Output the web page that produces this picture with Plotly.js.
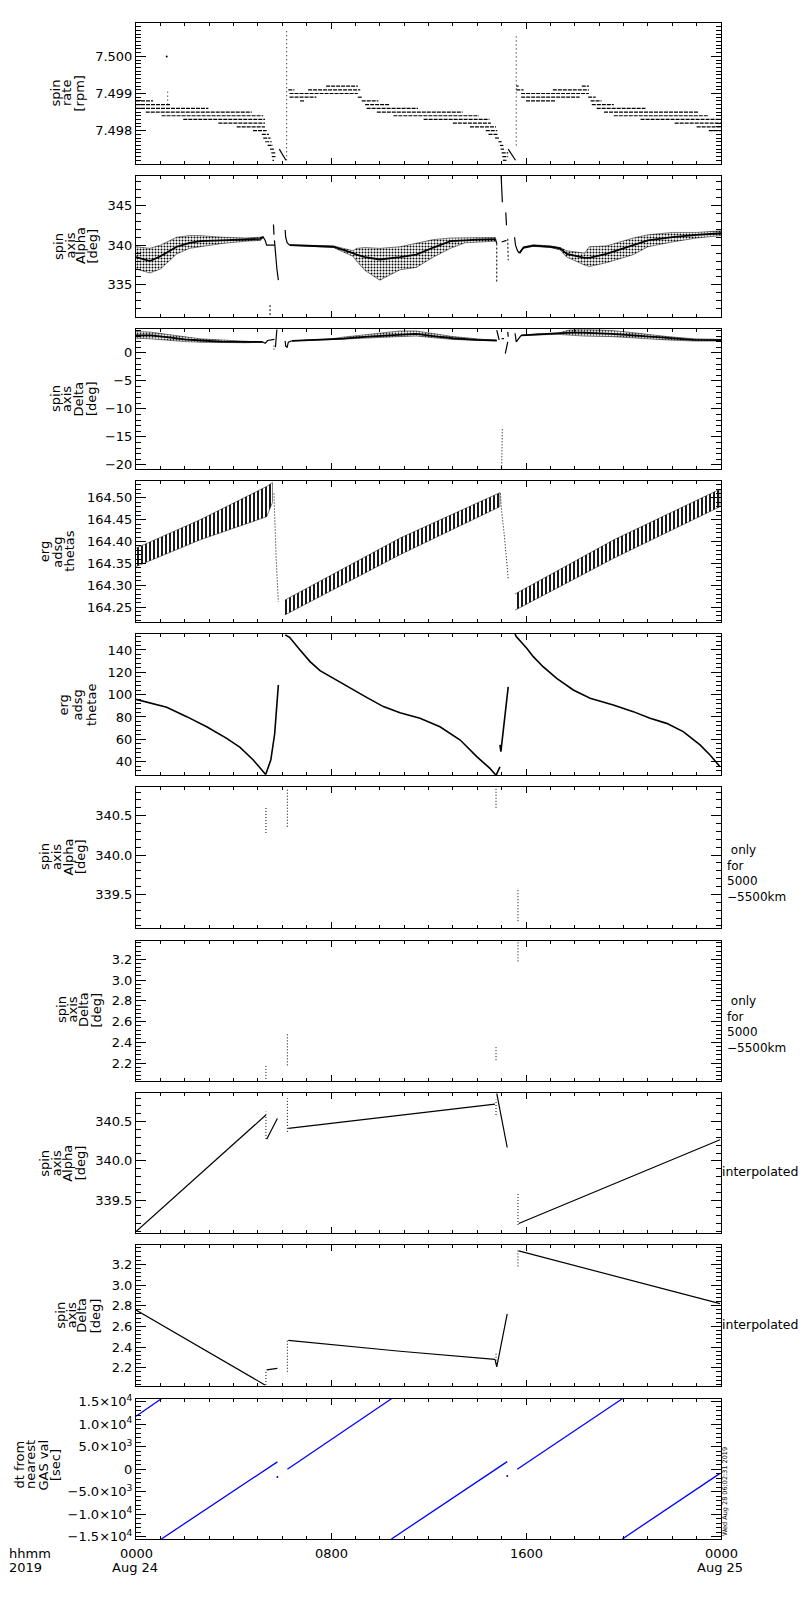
<!DOCTYPE html>
<html><head><meta charset="utf-8">
<script src="https://cdn.plot.ly/plotly-3.0.1.min.js"></script>
<style>html,body{margin:0;padding:0;background:#fff}</style>
</head><body><div id="chart" style="width:800px;height:1600px"></div>
<script>
// ================= DATA (time in hours since 2019-08-24 00:00) =================
// Panel 1: spin rate [rpm] quantized levels (level, start, end)
const rateLevel = [7.4988,7.4987,7.4986,7.4985,7.4984,7.4983,7.4982,7.4981,7.4980,7.4979,7.4978,7.4977,7.4976,7.4975,7.4974,7.4973,7.4972,
  7.4992,7.4991,7.4991,7.4990,7.4989,7.4989,7.4988,7.4988,7.4987,7.4986,7.4985,7.4984,7.4983,7.4982,7.4981,7.4980,7.4979,7.4978,7.4977,7.4976,7.4975,7.4974,7.4973,7.4972,
  7.4992,7.4991,7.4991,7.4992,7.4990,7.4989,7.4989,7.4988,7.4988,7.4987,7.4986,7.4985,7.4984,7.4983,7.4982,7.4981,7.4980];
const rateT0 = [0.0,0.0,0.0,0.4,1.05,1.94,3.38,4.13,4.8,5.16,5.22,5.3,5.4,5.5,5.55,5.57,5.6,
  7.8,6.25,7.06,6.3,6.3,9.1,6.73,9.26,9.4,9.46,9.88,10.56,11.8,13.0,13.7,14.35,14.46,14.73,14.87,14.93,14.96,15.0,15.03,15.05,
  15.6,15.6,17.1,18.29,15.8,15.8,18.55,16.0,18.65,18.7,18.9,19.2,19.6,20.7,22.1,23.0,23.5];
const rateT1 = [0.7,1.4,2.97,4.75,5.22,5.29,5.29,5.29,5.36,5.45,5.52,5.57,5.62,5.66,5.72,5.72,5.66,
  9.1,6.5,9.2,9.1,7.4,9.3,6.93,9.94,10.42,11.57,13.4,14.07,14.5,14.56,14.77,14.82,14.87,14.93,15.0,15.07,15.1,15.27,15.27,15.2,
  15.7,15.9,18.58,18.58,18.58,18.2,18.86,17.19,19.1,19.6,20.9,23.1,23.5,24,24,24,24];
const rateSpikeT  = [1.3, 6.18, 15.6];
const rateSpikeLo = [7.4987, 7.4972, 7.4976];
const rateSpikeHi = [7.4991, 7.5007, 7.5006];
const rateDiagT0 = [5.88, 15.27], rateDiagV0 = [7.4975, 7.4975];
const rateDiagT1 = [6.15, 15.57], rateDiagV1 = [7.4972, 7.4972];
const rateDotT = [1.26], rateDotV = [7.5000];

// Panel 2: spin axis Alpha [deg] (band lo/mid/hi)
const alphaA_t   = [0.0,0.57,1.0,1.67,2.2,2.63,3.5,4.5,5.1,5.2];
const alphaA_lo  = [337.0,336.5,337.0,338.9,339.6,339.8,340.2,340.5,340.6,340.9];
const alphaA_mid = [338.5,338.0,338.6,339.8,340.3,340.5,340.6,340.7,340.8,341.0];
const alphaA_hi  = [339.8,339.6,340.0,341.0,341.2,341.2,341.0,340.9,341.0,341.1];
const alphaB_t   = [6.3,8.1,8.9,9.05,9.4,10.0,10.83,11.5,12.2,12.9,13.5,14.0,14.75];
const alphaB_lo  = [340.0,339.7,338.6,338.0,336.8,335.6,336.9,337.2,338.5,339.6,340.3,340.4,340.5];
const alphaB_mid = [340.0,339.8,339.0,338.8,338.5,338.2,338.5,338.8,339.7,340.5,340.6,340.7,340.75];
const alphaB_hi  = [340.05,339.9,339.3,339.6,339.7,339.6,339.8,340.2,340.7,340.9,340.9,340.9,340.95];
const alphaC_t   = [15.73,15.9,16.3,17.0,17.4,17.67,18.4,18.6,19.3,20.4,21.0,22.0,23.0,24.0];
const alphaC_lo  = [339.0,339.6,339.85,339.7,339.4,338.5,337.5,337.3,337.8,338.8,339.8,340.4,340.9,341.2];
const alphaC_mid = [339.0,339.7,339.95,339.8,339.6,338.9,338.4,338.4,338.9,340.0,340.6,341.0,341.3,341.5];
const alphaC_hi  = [339.0,339.8,340.05,339.9,339.7,339.3,339.0,339.8,339.9,340.9,341.3,341.6,341.6,341.8];
const alphaStrokeT = [[5.2,5.3,5.36,5.7],[5.64,5.66],[5.68,5.72,5.78,5.84],[6.12,6.14,6.2,6.3],[14.75,14.8],[14.98,15.03],[15.17,15.2],[15.0,15.2],[15.53,15.57,15.65,15.73]];
const alphaStrokeV = [[341.1,340.6,340.0,340.0],[342.6,341.3],[340.6,339.0,337.0,335.6],[341.9,341.0,340.3,340.0],[340.75,340.2],[348.7,345.4],[344.1,342.5],[340.4,340.6],[341.0,340.0,339.3,339.0]];
const alphaDotT = [[5.5,5.5],[14.8,14.8],[15.25,15.27]];
const alphaDotV = [[331.2,332.6],[340.2,335.3],[340.8,338.1]];

// Panel 3: spin axis Delta [deg]
const deltaA_t   = [0.0,0.6,1.26,2.0,2.63,3.5,4.5,5.2];
const deltaA_lo  = [2.6,2.5,2.3,2.0,1.9,1.8,1.8,1.9];
const deltaA_mid = [3.1,3.1,2.8,2.4,2.2,2.0,1.95,1.95];
const deltaA_hi  = [3.8,3.7,3.3,2.8,2.5,2.3,2.1,2.0];
const deltaB_t   = [6.4,7.96,8.5,9.5,10.83,11.5,12.2,13.0,14.0,14.8];
const deltaB_lo  = [2.15,2.35,2.4,2.6,2.9,3.0,2.7,2.4,2.2,2.2];
const deltaB_mid = [2.15,2.4,2.55,2.9,3.3,3.4,3.0,2.6,2.3,2.2];
const deltaB_hi  = [2.15,2.45,2.8,3.3,3.9,3.9,3.4,2.9,2.5,2.25];
const deltaC_t   = [15.8,16.5,17.3,17.8,18.35,19.5,20.4,21.8,22.9,24.0];
const deltaC_lo  = [3.1,3.2,3.3,3.2,3.0,2.9,2.7,2.3,2.1,2.1];
const deltaC_mid = [3.1,3.3,3.4,3.6,3.6,3.4,3.1,2.6,2.3,2.25];
const deltaC_hi  = [3.1,3.4,3.5,4.1,4.2,4.0,3.6,2.9,2.5,2.4];
const deltaStrokeT = [[5.2,5.3,5.4,5.68],[5.72,5.78],[6.12,6.14,6.2,6.25,6.4],[14.8,14.85,14.9],[15.0,15.1],[15.15,15.25],[15.25,15.27],[15.55,15.6,15.8]];
const deltaStrokeV = [[1.95,1.7,2.2,2.4],[1.0,4.2],[2.1,1.2,1.0,1.9,2.15],[4.05,3.0,2.26],[2.55,2.55],[-0.13,1.96],[3.75,2.86],[3.5,1.96,3.1]];
const deltaDotT = [[5.66,5.66],[15.0,15.03]];
const deltaDotV = [[1.3,0.4],[-20.8,-13.4]];

// Panel 4: erg adsg thetas (hatched bands)
const thetasA_t  = [0.0,2.63,5.36,5.6];
const thetasA_lo = [164.343,164.404,164.457,164.49];
const thetasA_hi = [164.385,164.45,164.526,164.535];
const thetasB_t  = [6.1,10.83,14.93];
const thetasB_lo = [164.232,164.37,164.48];
const thetasB_hi = [164.266,164.408,164.512];
const thetasC_t  = [15.55,19.6,23.96];
const thetasC_lo = [164.243,164.362,164.48];
const thetasC_hi = [164.28,164.404,164.52];
const thetasDropT = [[5.66,5.7,5.75,5.84],[14.95,15.0,15.1,15.27]];
const thetasDropV = [[164.51,164.44,164.36,164.262],[164.51,164.47,164.42,164.316]];

// Panel 5: erg adsg thetae
const thetaeT = [[0.0,1.26,2.08,2.9,3.72,4.27,4.81,5.09,5.32],[5.32,5.53,5.69,5.8,5.84],
  [6.12,6.3,6.73,7.14,7.55,8.09,8.78,9.46,10.15,10.83,11.65,12.47,13.3,13.98,14.52,14.77],[14.77,14.93],[14.93,14.97,15.27],
  [15.55,15.6,16.03,16.3,16.7,17.26,17.94,18.63,19.58,20.4,21.09,21.77,22.45,23.14,23.55,23.96]];
const thetaeV = [[95.8,88.7,80.3,71.3,60.9,52.8,41.5,34.0,28.5],[28.5,41.5,65,95,108.7],
  [153.5,151.3,140,129.6,121.5,114.6,105.7,97.6,89.3,83.8,78.8,71.3,59.4,44.5,34.0,27.8],[27.8,35.3],[55,49,107],
  [154.3,152,141.5,134,125,114.6,104.2,96.7,90.7,84.8,78.8,74.3,66.9,55,46,35.5]];

// Panel 6/7: only for 5000-5500km (dotted vertical clusters)
const onlyT = [5.33, 6.21, 14.77, 15.67];
const onlyAlphaLo = [340.28,340.36,340.6,339.16];
const onlyAlphaHi = [340.62,340.85,340.85,339.58];
const onlyDeltaLo = [2.05,2.18,2.23,3.18];
const onlyDeltaHi = [2.18,2.48,2.37,3.37];

// Panel 8: interpolated Alpha
const interpAlphaT = [[0,5.33],[5.36,5.8],[6.25,10.83,14.73],[14.8,15.23],[15.7,23.96]];
const interpAlphaV = [[339.097,340.585],[340.275,340.54],[340.415,340.585,340.725],[340.86,340.17],[339.2,340.27]];
const interpAlphaDotLo = [340.28,340.37,340.585,339.18];
const interpAlphaDotHi = [340.63,340.8,340.78,339.59];
// Panel 9: interpolated Delta
const interpDeltaT = [[0,5.29],[5.36,5.8],[6.25,10.83,14.73],[14.73,14.8,15.23],[15.7,23.96]];
const interpDeltaV = [[2.758,2.034],[2.18,2.195],[2.465,2.36,2.282],[2.282,2.21,2.72],[3.33,2.82]];
const interpDeltaDotLo = [2.034,2.162,2.24,3.18];
const interpDeltaDotHi = [2.18,2.47,2.35,3.34];

// Panel 10: dt from nearest GAS val [sec]
const gasT0 = [0, 1.04, 6.21, 10.48, 15.64, 19.95];
const gasV0 = [11800, -15500, 0, -15500, 0, -15500];
const gasT1 = [1.04, 5.8, 10.48, 15.23, 19.95, 23.96];
const gasV1 = [15700, 1650, 15700, 1700, 15700, -900];
const gasDotT = [5.8, 15.23];
const gasDotV = [-1700, -1500];

// Axis labels
const yTitles = [["spin","rate","[rpm]"],["spin","axis","Alpha","[deg]"],["spin","axis","Delta","[deg]"],["erg","adsg","thetas"],["erg","adsg","thetae"],
  ["spin","axis","Alpha","[deg]"],["spin","axis","Delta","[deg]"],["spin","axis","Alpha","[deg]"],["spin","axis","Delta","[deg]"],["dt from","nearest","GAS val","[sec]"]];
const gasTickVals = [-15000,-10000,-5000,0,5000,10000,15000];
const gasTickText = ["\u22121.5\u00d710<sup>4</sup>","\u22121.0\u00d710<sup>4</sup>","\u22125.0\u00d710<sup>3</sup>","0","5.0\u00d710<sup>3</sup>","1.0\u00d710<sup>4</sup>","1.5\u00d710<sup>4</sup>"];
const xTickHours = ["0000","0800","1600","0000"];
const xTickDates = ["Aug 24","","","Aug 25"];
const onlyText = "\u00a0only<br>for<br>5000<br>\u22125500km";

// ================= LAYOUT / STYLE =================
const W = 800, H = 1600, L = 136, R = 721;
const panelTop = [23,176,329.3,481.3,634,787.3,940.7,1093.3,1245.3,1398.7];
const panelBot = [164,316.7,469.3,622,775.3,928.3,1081.3,1233.3,1386,1539];
const yRange = [[7.4971,7.5009],[331.0,348.7],[-20.8,4.2],[164.216,164.538],[27.8,154.3],[339.07,340.86],[2.027,3.379],[339.075,340.862],[2.024,3.384],[-15500,15700]];
const yDtick = [0.001,5,5,0.05,20,0.5,0.2,0.5,0.2,5000];
const yMinor = [0.0001,1,1,0.01,4,0.1,0.04,0.1,0.04,1000];
const yFormat = ['.3f','d','d','.2f','d','.1f','.1f','.1f','.1f',''];
const titleX = [[55,66.5,79],[58,69.5,80,91.5],[55,66,77.5,91],[44.5,58,70],[62.5,76.5,91],[44,56,67.5,80],[61,71.5,83,95.5],[44.5,56,67.5,80],[61,71.5,82,95.5],[18.5,30,42.5,55]];
const titleY = [93.5,246,399,551.7,705,857,1010,1163.3,1315.7,1465];
const FONT = 'DejaVu Sans, Verdana, sans-serif';

function ax(i){ return {xaxis:'x'+(i?i+1:''), yaxis:'y'+(i?i+1:'')}; }
const traces = [];
function addLine(i, t, v, w, dash, color){
  traces.push(Object.assign({type:'scatter', mode:'lines', x:t, y:v, hoverinfo:'skip', showlegend:false,
    line:{color:color||'black', width:w||1, dash:dash||'solid'}}, ax(i)));
}
function addBand(i, t, lo, hi, shape, size, solidity){
  const xs = t.concat(t.slice().reverse());
  const ys = hi.concat(lo.slice().reverse());
  traces.push(Object.assign({type:'scatter', mode:'lines', x:xs, y:ys, fill:'toself', hoverinfo:'skip', showlegend:false,
    fillcolor:'rgba(0,0,0,0)', line:{color:'black', width:0.5},
    fillpattern:{shape:shape, fgcolor:'black', bgcolor:'rgba(0,0,0,0)', size:size, solidity:solidity}}, ax(i)));
}
function segs(t0,v0,t1,v1){ const x=[],y=[]; for(let k=0;k<t0.length;k++){ x.push(t0[k],t1[k],null); y.push(v0[k],v1[k],null);} return [x,y]; }

// Panel 1
(function(){
  const s = segs(rateT0, rateLevel, rateT1, rateLevel);
  addLine(0, s[0], s[1], 1.2, '4px,1px');
  const sp = segs(rateSpikeT, rateSpikeLo, rateSpikeT, rateSpikeHi);
  addLine(0, sp[0], sp[1], 1, '1px,3px');
  const dg = segs(rateDiagT0, rateDiagV0, rateDiagT1, rateDiagV1);
  addLine(0, dg[0], dg[1], 1.2);
  traces.push(Object.assign({type:'scatter', mode:'markers', x:rateDotT, y:rateDotV, marker:{color:'black', size:2}, hoverinfo:'skip', showlegend:false}, ax(0)));
})();
// Panel 2
addBand(1, alphaA_t, alphaA_lo, alphaA_hi, '.', 3, 0.35);
addBand(1, alphaB_t, alphaB_lo, alphaB_hi, '.', 3, 0.35);
addBand(1, alphaC_t, alphaC_lo, alphaC_hi, '.', 3, 0.35);
addLine(1, alphaA_t, alphaA_mid, 1.8);
addLine(1, alphaB_t, alphaB_mid, 1.8);
addLine(1, alphaC_t, alphaC_mid, 1.8);
alphaStrokeT.forEach((t,k)=>addLine(1, t, alphaStrokeV[k], 1.2));
alphaDotT.forEach((t,k)=>addLine(1, t, alphaDotV[k], 1, '2px,2px'));
// Panel 3
addBand(2, deltaA_t, deltaA_lo, deltaA_hi, '.', 3, 0.35);
addBand(2, deltaB_t, deltaB_lo, deltaB_hi, '.', 3, 0.35);
addBand(2, deltaC_t, deltaC_lo, deltaC_hi, '.', 3, 0.35);
addLine(2, deltaA_t, deltaA_mid, 1.8);
addLine(2, deltaB_t, deltaB_mid, 1.8);
addLine(2, deltaC_t, deltaC_mid, 1.8);
deltaStrokeT.forEach((t,k)=>addLine(2, t, deltaStrokeV[k], 1.2));
deltaDotT.forEach((t,k)=>addLine(2, t, deltaDotV[k], 1, '1px,2px'));
// Panel 4
addBand(3, thetasA_t, thetasA_lo, thetasA_hi, '|', 4, 0.45);
addBand(3, thetasB_t, thetasB_lo, thetasB_hi, '|', 4, 0.45);
addBand(3, thetasC_t, thetasC_lo, thetasC_hi, '|', 4, 0.45);
thetasDropT.forEach((t,k)=>addLine(3, t, thetasDropV[k], 1, '1px,2px'));
// Panel 5
thetaeT.forEach((t,k)=>addLine(4, t, thetaeV[k], 1.6));
// Panel 6,7
(function(){
  const a = segs(onlyT, onlyAlphaLo, onlyT, onlyAlphaHi); addLine(5, a[0], a[1], 1, '1px,2px');
  const d = segs(onlyT, onlyDeltaLo, onlyT, onlyDeltaHi); addLine(6, d[0], d[1], 1, '1px,2px');
})();
// Panel 8,9
interpAlphaT.forEach((t,k)=>addLine(7, t, interpAlphaV[k], 1.2));
interpDeltaT.forEach((t,k)=>addLine(8, t, interpDeltaV[k], 1.2));
(function(){
  const a = segs(onlyT, interpAlphaDotLo, onlyT, interpAlphaDotHi); addLine(7, a[0], a[1], 1, '1px,2px');
  const d = segs(onlyT, interpDeltaDotLo, onlyT, interpDeltaDotHi); addLine(8, d[0], d[1], 1, '1px,2px');
})();
// Panel 10
(function(){
  const g = segs(gasT0, gasV0, gasT1, gasV1); addLine(9, g[0], g[1], 1.3, 'solid', 'rgb(0,0,255)');
  traces.push(Object.assign({type:'scatter', mode:'markers', x:gasDotT, y:gasDotV, marker:{color:'rgb(0,0,255)', size:2}, hoverinfo:'skip', showlegend:false}, ax(9)));
})();

const layout = {width:W, height:H, margin:{l:0,r:0,t:0,b:0}, paper_bgcolor:'white', plot_bgcolor:'white',
  showlegend:false, font:{family:FONT, size:13, color:'black'}, annotations:[]};
for(let i=0;i<10;i++){
  const xa = {domain:[L/W, R/W], range:[0,24], anchor:'y'+(i?i+1:''), showline:true, mirror:'allticks',
    linecolor:'black', linewidth:1, ticks:'inside', ticklen:6, tickwidth:1, tickcolor:'black', tick0:0, dtick:8,
    showticklabels:false, showgrid:false, zeroline:false, fixedrange:true,
    minor:{dtick:1, tick0:0, ticks:'inside', ticklen:3, tickwidth:1, tickcolor:'black', showgrid:false}};
  const ya = {domain:[1-panelBot[i]/H, 1-panelTop[i]/H], range:yRange[i], anchor:'x'+(i?i+1:''), showline:true, mirror:'allticks',
    linecolor:'black', linewidth:1, ticks:'inside', ticklen:10, tickwidth:1, tickcolor:'black', tick0:0, dtick:yDtick[i],
    showgrid:false, zeroline:false, fixedrange:true, tickfont:{family:FONT, size:13, color:'black'},
    minor:{dtick:yMinor[i], tick0:0, ticks:'inside', ticklen:5, tickwidth:1, tickcolor:'black', showgrid:false}};
  if(yFormat[i]) ya.tickformat = yFormat[i];
  if(i===9){ ya.tickmode='array'; ya.tickvals=gasTickVals; ya.ticktext=gasTickText;
    ya.minor = {tickvals:[-15000,-14000,-13000,-12000,-11000,-9000,-8000,-7000,-6000,-4000,-3000,-2000,-1000,1000,2000,3000,4000,6000,7000,8000,9000,11000,12000,13000,14000,15000],
      ticks:'inside', ticklen:5, tickwidth:1, tickcolor:'black', showgrid:false}; }
  layout['xaxis'+(i?i+1:'')] = xa;
  layout['yaxis'+(i?i+1:'')] = ya;
  yTitles[i].forEach((txt,k)=>layout.annotations.push({xref:'paper', yref:'paper', x:titleX[i][k]/W, y:1-titleY[i]/H,
    text:txt, textangle:-90, showarrow:false, xanchor:'center', yanchor:'middle', font:{family:FONT, size:13, color:'black'}}));
}
function note(txt, xpx, ypx, anchor, size, angle){
  layout.annotations.push({xref:'paper', yref:'paper', x:xpx/W, y:1-ypx/H, text:txt, showarrow:false, xanchor:anchor, yanchor:'middle',
    align:'left', textangle:angle||0, borderpad:0, font:{family:FONT, size:size||13, color:'black'}});
}
note(onlyText, 726, 873, 'left', 12);
note(onlyText, 726, 1024, 'left', 12);
note('interpolated', 721, 1171.7, 'left', 12.5);
note('interpolated', 721, 1324, 'left', 12.5);
note('Wed Aug 28 06:02:31 2019', 725, 1492, 'center', 6.5, -90);
note('hhmm', 8, 1553, 'left'); note('2019', 8, 1567, 'left');
const tickPx = [136, 331, 526, 721];
xTickHours.forEach((t,k)=>note(t, tickPx[k], 1553, 'center'));
xTickDates.forEach((t,k)=>{ if(t) note(t, tickPx[k]-1, 1567, 'center'); });

Plotly.newPlot('chart', traces, layout, {staticPlot:true, displayModeBar:false});
</script></body></html>
